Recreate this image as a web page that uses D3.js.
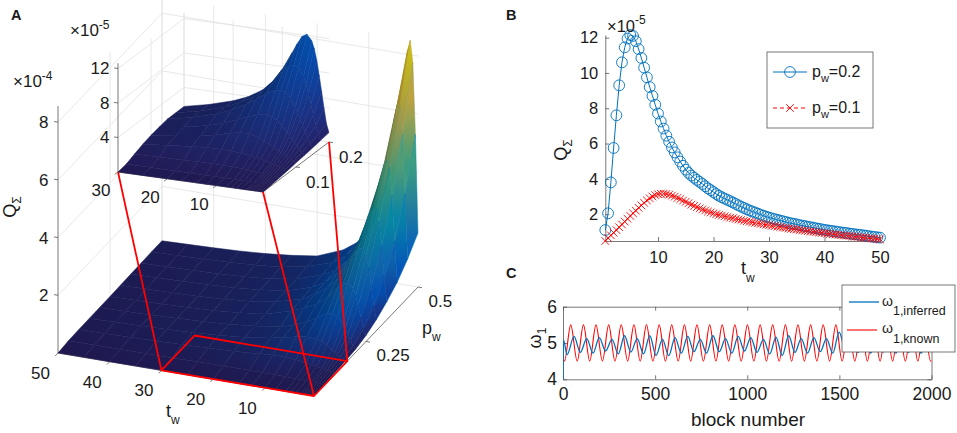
<!DOCTYPE html>
<html>
<head>
<meta charset="utf-8">
<script src="https://cdn.jsdelivr.net/npm/d3@7"></script>
<style>
html,body{margin:0;padding:0;background:#fff;}
svg{display:block;}
text{font-family:"Liberation Sans",Arial,Helvetica,sans-serif;fill:#1a1a1a;}
</style>
</head>
<body>
<svg id="fig" width="957" height="433" viewBox="0 0 957 433"></svg>
<script>
// ===================== DATA =====================
// Panel A – main surface, Q_Sigma in units of 1e-4 (rows: p_w, columns: t_w)
const tMain = [0.5,1,1.5,2,2.5,3,4,5,6,8,10,12.5,15,20,25,30,35,40,45,50];
const pMain = [0,0.05,0.1,0.15,0.2,0.25,0.3,0.35,0.4,0.45,0.5];
const qMain = [
 [0,0,0,0,0,0,0,0,0,0,0,0,0,0,0,0,0,0,0,0],
 [0.02,0.025,0.03,0.033,0.037,0.04,0.045,0.05,0.056,0.065,0.072,0.076,0.077,0.074,0.069,0.064,0.058,0.053,0.048,0.044],
 [0.048,0.065,0.08,0.095,0.11,0.126,0.158,0.19,0.22,0.278,0.313,0.305,0.27,0.205,0.167,0.137,0.113,0.092,0.074,0.057],
 [0.075,0.12,0.18,0.25,0.32,0.39,0.52,0.62,0.68,0.69,0.63,0.53,0.44,0.32,0.235,0.18,0.14,0.112,0.092,0.063],
 [0.11,0.205,0.38,0.575,0.76,0.93,1.145,1.215,1.18,0.975,0.77,0.578,0.45,0.325,0.242,0.181,0.142,0.111,0.088,0.067],
 [0.21,0.42,0.79,1.2,1.52,1.76,1.93,1.85,1.7,1.31,1.02,0.8,0.62,0.37,0.26,0.19,0.15,0.11,0.09,0.072],
 [0.38,0.84,1.5,2.13,2.55,2.77,2.72,2.46,2.13,1.57,1.2,0.9,0.66,0.41,0.28,0.21,0.15,0.12,0.1,0.08],
 [0.62,1.44,2.52,3.35,3.77,3.85,3.54,3.0,2.5,1.81,1.35,0.94,0.69,0.42,0.3,0.22,0.17,0.14,0.11,0.09],
 [0.92,2.3,3.88,4.85,5.1,4.95,4.28,3.47,2.86,2.04,1.43,0.97,0.74,0.45,0.3,0.22,0.18,0.15,0.12,0.1],
 [1.34,3.58,5.63,6.63,6.63,6.23,5.09,4.02,3.28,2.28,1.57,1.11,0.79,0.5,0.33,0.25,0.2,0.16,0.13,0.11],
 [1.87,5.27,7.74,8.5,8.16,7.48,5.78,4.5,3.66,2.38,1.62,1.16,0.85,0.49,0.36,0.27,0.21,0.17,0.14,0.11]
];
// Panel A – inset surface, Q_Sigma in units of 1e-5
const tInset = [0.5,1,1.5,2,2.5,3,3.5,4,5,6,7,8,10,12,14,17,20,25,30];
const pInset = [0,0.025,0.05,0.075,0.1,0.125,0.15,0.175,0.2];
const qInset = [
 [0,0,0,0,0,0,0,0,0,0,0,0,0,0,0,0,0,0,0],
 [0.1,0.11,0.11,0.12,0.12,0.12,0.13,0.13,0.13,0.14,0.14,0.15,0.15,0.16,0.16,0.17,0.18,0.18,0.19],
 [0.2,0.25,0.3,0.33,0.37,0.4,0.42,0.45,0.5,0.56,0.61,0.65,0.72,0.755,0.77,0.765,0.74,0.69,0.64],
 [0.33,0.43,0.52,0.6,0.68,0.76,0.84,0.92,1.07,1.2,1.32,1.43,1.58,1.68,1.72,1.68,1.58,1.32,1.05],
 [0.48,0.65,0.8,0.95,1.1,1.26,1.42,1.58,1.9,2.2,2.5,2.78,3.13,3.1,2.85,2.4,2.05,1.67,1.37],
 [0.62,0.9,1.22,1.55,1.9,2.25,2.62,2.98,3.7,4.25,4.6,4.75,4.6,4.2,3.72,3.05,2.55,2.0,1.6],
 [0.75,1.2,1.8,2.5,3.2,3.9,4.6,5.2,6.2,6.8,6.95,6.9,6.3,5.5,4.75,3.85,3.2,2.35,1.8],
 [0.92,1.55,2.6,3.75,4.95,6.1,7.2,8.05,9.05,9.25,9.0,8.55,7.15,5.9,4.95,4.0,3.25,2.4,1.8],
 [1.1,2.05,3.8,5.75,7.6,9.3,10.6,11.45,12.15,11.8,10.85,9.75,7.7,6.1,4.98,3.94,3.25,2.42,1.81]
];
// zoom region marked in the main plot
const zoomT = [0.5, 30];
const zoomP = [0, 0.16];

// Panel B – Q_Sigma (1e-5) vs t_w
const tB = [0.5,1,1.5,2,2.5,3,3.5,4,4.5,5,5.5,6,6.5,7,7.5,8,8.5,9,9.5,10,10.5,11,11.5,12,12.5,13,13.5,14,14.5,15,15.5,16,16.5,17,17.5,18,18.5,19,19.5,20,20.5,21,21.5,22,22.5,23,23.5,24,24.5,25,25.5,26,26.5,27,27.5,28,28.5,29,29.5,30,30.5,31,31.5,32,32.5,33,33.5,34,34.5,35,35.5,36,36.5,37,37.5,38,38.5,39,39.5,40,40.5,41,41.5,42,42.5,43,43.5,44,44.5,45,45.5,46,46.5,47,47.5,48,48.5,49,49.5,50];
const qB02 = [1.1,2.05,3.8,5.75,7.6,9.3,10.6,11.45,11.95,12.15,
 12.1,11.8,11.35,10.85,10.3,9.75,9.2,8.7,8.2,7.7,
 7.25,6.85,6.45,6.1,5.78,5.5,5.22,4.98,4.74,4.52,
 4.34,4.19,4.06,3.94,3.83,3.71,3.58,3.46,3.36,3.25,
 3.14,3.04,2.96,2.88,2.81,2.74,2.66,2.58,2.5,2.42,
 2.35,2.28,2.21,2.15,2.09,2.03,1.97,1.91,1.86,1.81,
 1.76,1.72,1.68,1.64,1.6,1.56,1.52,1.48,1.45,1.42,
 1.38,1.35,1.32,1.29,1.26,1.23,1.2,1.17,1.14,1.11,
 1.09,1.06,1.04,1.02,0.99,0.97,0.95,0.93,0.9,0.88,
 0.86,0.84,0.82,0.8,0.78,0.75,0.73,0.71,0.69,0.67];
const qB01 = [0.48,0.65,0.8,0.95,1.1,1.26,1.42,1.58,1.74,1.9,
 2.05,2.2,2.36,2.5,2.64,2.78,2.9,3.0,3.08,3.13,
 3.16,3.16,3.14,3.1,3.05,2.99,2.92,2.85,2.77,2.7,
 2.62,2.54,2.47,2.4,2.33,2.27,2.21,2.15,2.1,2.05,
 2.0,1.96,1.92,1.88,1.84,1.8,1.77,1.73,1.7,1.67,
 1.63,1.6,1.57,1.54,1.51,1.48,1.45,1.42,1.4,1.37,
 1.34,1.32,1.29,1.27,1.24,1.22,1.19,1.17,1.15,1.13,
 1.1,1.08,1.06,1.04,1.02,1.0,0.98,0.96,0.94,0.92,
 0.9,0.88,0.86,0.85,0.83,0.81,0.79,0.78,0.76,0.74,
 0.72,0.71,0.69,0.67,0.66,0.64,0.62,0.61,0.59,0.57];

// Panel C – omega_1 vs block number (turning points)
const blocksKnown = [0,8,42,77,111,145,179,214,248,282,316,351,385,419,453,488,522,556,590,625,659,693,727,762,796,830,864,899,933,967,1001,1036,1070,1104,1138,1173,1207,1241,1275,1310,1344,1378,1412,1447,1481,1515,1549,1584,1618,1652,1686,1721,1755,1789,1823,1858,1892,1926,1960,1995,2000];
const omegaKnown = [4.62,4.5,5.5,4.5,5.5,4.5,5.5,4.5,5.5,4.5,5.5,4.5,5.5,4.5,5.5,4.5,5.5,4.5,5.5,4.5,5.5,4.5,5.5,4.5,5.5,4.5,5.5,4.5,5.5,4.5,5.5,4.5,5.5,4.5,5.5,4.5,5.5,4.5,5.5,4.5,5.5,4.5,5.5,4.5,5.5,4.5,5.5,4.5,5.5,4.5,5.5,4.5,5.5,4.5,5.5,4.5,5.5,4.5,5.5,4.5,4.51];
const blocksInferred = [0,3,22,60,94,129,163,197,231,266,300,334,368,403,437,471,505,540,574,608,642,677,711,745,779,814,848,882,916,951,985,1019,1053,1088,1122,1156,1190,1225,1259,1293,1327,1362,1396,1430,1464,1499,1533,1567,1601,1636,1670,1704,1738,1773,1807,1841,1875,1910,1944,1978,2000];
const omegaInferred = [4.0,5.08,4.68,5.18,4.74,5.12,4.72,5.15,4.78,5.1,4.7,5.2,4.75,5.12,4.7,5.2,4.66,5.1,4.65,5.15,4.72,5.18,4.76,5.1,4.72,5.2,4.76,5.12,4.72,5.18,4.78,5.15,4.74,5.1,4.7,5.16,4.66,5.2,4.74,5.12,4.72,5.15,4.76,5.12,4.72,5.3,4.8,5.15,4.74,5.12,4.72,5.18,4.75,5.12,4.72,5.15,4.74,5.1,4.72,5.14,4.95];

// tick values
const ticksTMain = [10,20,30,40,50], ticksPMain = [0.25,0.5], ticksZMain = [2,4,6,8];
const ticksTInset = [10,20,30], ticksPInset = [0.1,0.2], ticksZInset = [4,8,12];
const ticksTB = [10,20,30,40,50], ticksQB = [2,4,6,8,10,12];
const ticksBlock = [0,500,1000,1500,2000], ticksOmega = [4,5,6];

// ===================== STYLE =====================
const AXIS = '#555', GRID = '#e2e2e2', BLUE = '#0072BD', RED = '#FF0000';
const parula = d3.scaleLinear()
  .domain([0,0.125,0.25,0.375,0.5,0.625,0.75,0.875,1])
  .range(['#352a87','#0363e1','#1485d4','#06a7c6','#38b99e','#92bf73','#d9ba56','#fcce2e','#f9fb0e'])
  .clamp(true);
const plain = d => String(d);

const svg = d3.select('#fig');
const defs = svg.append('defs');

function rich(g, x, y, parts, opt = {}) {
  const t = g.append('text').attr('text-anchor', opt.anchor || 'start');
  if (opt.transform) t.attr('transform', opt.transform); else t.attr('x', x).attr('y', y);
  if (opt.weight) t.attr('font-weight', opt.weight);
  let prev = 0;
  parts.forEach(p => {
    const s = p.shift || 0;
    t.append('tspan').attr('dy', s - prev).attr('font-size', p.size).text(p.text);
    prev = s;
  });
  return t;
}

// ===================== PANEL A (3D) =====================
function make3D(c) {
  const su = d3.scaleLinear().domain(c.tDom).range([0, 1]);
  const sv = d3.scaleLinear().domain(c.pDom).range([0, 1]);
  const sz = d3.scaleLinear().domain(c.zDom).range([0, c.zPx]);
  const proj = (t, p, z) => {
    const u = su(t), v = sv(p);
    return [c.O[0] + u * c.U[0] + v * c.V[0], c.O[1] + u * c.U[1] + v * c.V[1] - sz(z)];
  };
  const nU = Math.hypot(...c.U), nV = Math.hypot(...c.V);
  return {su, sv, sz, proj, U: [c.U[0]/nU, c.U[1]/nU], V: [c.V[0]/nV, c.V[1]/nV], zTop: c.zDom[1]};
}

function frame3D(g, ax, tk, lab) {
  const [t0, t1] = ax.su.domain(), [p0, p1] = ax.sv.domain(), zTop = ax.zTop;
  const grid = [];
  tk.t.forEach(t => { grid.push([[t,p1,0],[t,p1,zTop]], [[t,p0,0],[t,p1,0]]); });
  tk.p.forEach(p => { grid.push([[t1,p,0],[t1,p,zTop]], [[t0,p,0],[t1,p,0]]); });
  tk.z.forEach(z => { grid.push([[t0,p1,z],[t1,p1,z]], [[t1,p0,z],[t1,p1,z]]); });
  const segs = (sel, data, col, w) => sel.selectAll(null).data(data).join('line')
    .attr('x1', d => ax.proj(...d[0])[0]).attr('y1', d => ax.proj(...d[0])[1])
    .attr('x2', d => ax.proj(...d[1])[0]).attr('y2', d => ax.proj(...d[1])[1])
    .attr('stroke', col).attr('stroke-width', w);
  segs(g.append('g'), grid, GRID, 0.8);
  segs(g.append('g'), [[[t0,p0,0],[t1,p0,0]], [[t0,p0,0],[t0,p1,0]], [[t1,p0,0],[t1,p0,zTop]]], AXIS, 0.8);
  const L = 4;
  const tickG = g.append('g').attr('stroke', AXIS).attr('stroke-width', 0.8);
  tk.t.forEach(t => { const a = ax.proj(t,p0,0); tickG.append('line').attr('x1',a[0]).attr('y1',a[1]).attr('x2',a[0]-ax.V[0]*L).attr('y2',a[1]-ax.V[1]*L); });
  tk.p.forEach(p => { const a = ax.proj(t0,p,0); tickG.append('line').attr('x1',a[0]).attr('y1',a[1]).attr('x2',a[0]-ax.U[0]*L).attr('y2',a[1]-ax.U[1]*L); });
  tk.z.forEach(z => { const a = ax.proj(t1,p0,z); tickG.append('line').attr('x1',a[0]).attr('y1',a[1]).attr('x2',a[0]+ax.U[0]*L).attr('y2',a[1]+ax.U[1]*L); });
  const lg = g.append('g').attr('font-size', lab.size);
  tk.t.forEach(t => { const a = ax.proj(t,p0,0); lg.append('text').attr('x', a[0]+lab.tOff[0]).attr('y', a[1]+lab.tOff[1]).attr('dy','0.35em').attr('text-anchor','middle').text(t); });
  tk.p.forEach(p => { const a = ax.proj(t0,p,0); lg.append('text').attr('x', a[0]+lab.pOff[0]).attr('y', a[1]+lab.pOff[1]).attr('dy','0.35em').attr('text-anchor','start').text(p); });
  tk.z.forEach(z => { const a = ax.proj(t1,p0,z); lg.append('text').attr('x', a[0]+lab.zOff[0]).attr('y', a[1]+lab.zOff[1]).attr('dy','0.35em').attr('text-anchor','end').text(z); });
}

let gradId = 0;
function surface(g, ax, T, P, Q, unit, cMax) {
  const cells = [];
  const mid = (a, b) => [(a[0]+b[0])/2, (a[1]+b[1])/2, (a[2]+b[2])/2];
  for (let i = 0; i < P.length - 1; i++) for (let j = 0; j < T.length - 1; j++) {
    const c = [[T[j],P[i],Q[i][j]],[T[j+1],P[i],Q[i][j+1]],[T[j+1],P[i+1],Q[i+1][j+1]],[T[j],P[i+1],Q[i+1][j]]];
    const pts = c.map(d => ax.proj(d[0], d[1], d[2]));
    const depth = -d3.mean(c, d => ax.proj(d[0], d[1], 0)[1]);
    let a = 0;
    for (let k = 0; k < 4; k++) { const p1 = pts[k], p2 = pts[(k+1)%4]; a += p1[0]*p2[1] - p2[0]*p1[1]; }
    a = Math.abs(a) / 2;
    // emulate the darkening by the dense black mesh of the original (0.5 x 0.005 cells)
    const nSub = ((T[j+1]-T[j]) / 0.5) * ((P[i+1]-P[i]) / 0.005);
    const aSub = Math.max(a / nSub, 0.05);
    const cov = Math.min(0.42, 0.42 * Math.pow(3.4 / aSub, 0.3));
    const shade = v => d3.interpolateRgb(parula(v * unit / cMax), '#000')(cov);
    // colour ramp across the facet, along the direction of the larger change
    const eP0 = mid(c[0], c[1]), eP1 = mid(c[3], c[2]);
    const eT0 = mid(c[0], c[3]), eT1 = mid(c[1], c[2]);
    const [s, e] = Math.abs(eP1[2]-eP0[2]) >= Math.abs(eT1[2]-eT0[2]) ? [eP0, eP1] : [eT0, eT1];
    const ps = ax.proj(...s), pe = ax.proj(...e);
    const id = 'sg' + (gradId++);
    const gr = defs.append('linearGradient').attr('id', id).attr('gradientUnits', 'userSpaceOnUse')
      .attr('x1', ps[0]).attr('y1', ps[1]).attr('x2', pe[0]).attr('y2', pe[1]);
    gr.append('stop').attr('offset', 0).attr('stop-color', shade(s[2]));
    gr.append('stop').attr('offset', 1).attr('stop-color', shade(e[2]));
    cells.push({pts, depth, fill: `url(#${id})`, edge: shade(d3.mean(c, d => d[2]))});
  }
  cells.sort((a, b) => b.depth - a.depth);
  g.append('g').selectAll('path').data(cells).join('path')
    .attr('d', d => 'M' + d.pts.map(p => p.join(',')).join('L') + 'Z')
    .attr('fill', d => d.fill).attr('stroke', d => d.edge)
    .attr('stroke-width', 0.5).attr('stroke-linejoin', 'round');
}

const cMax = d3.max(qMain.flat()) * 1e-4;
const mainAx = make3D({O:[314,396], U:[-256,-43], V:[104,-109], tDom:[0.5,50], pDom:[0,0.5], zDom:[0,8.56], zPx:247});
const insetAx = make3D({O:[263,192], U:[-145,-20], V:[66,-50], tDom:[0.5,30], pDom:[0,0.2], zDom:[0,12.6], zPx:108.7});

const gA = svg.append('g');
frame3D(gA, mainAx, {t: ticksTMain, p: ticksPMain, z: ticksZMain}, {size: 17, tOff: [-17.5, 20], pOff: [10.5, 14], zOff: [-9.5, 0]});
surface(gA, mainAx, tMain, pMain, qMain, 1e-4, cMax);
frame3D(gA, insetAx, {t: ticksTInset, p: ticksPInset, z: ticksZInset}, {size: 17, tOff: [-17, 18], pOff: [10, 15], zOff: [-8.5, 0]});
surface(gA, insetAx, tInset, pInset, qInset, 1e-5, cMax);

// red zoom box + connectors
const redG = gA.append('g').attr('stroke', RED).attr('stroke-width', 1.8).attr('fill', 'none').attr('stroke-linejoin', 'round');
const rect = [[zoomT[0],zoomP[0]],[zoomT[1],zoomP[0]],[zoomT[1],zoomP[1]],[zoomT[0],zoomP[1]]].map(d => mainAx.proj(d[0], d[1], 0));
redG.append('path').attr('d', 'M' + rect.map(p => p.join(',')).join('L') + 'Z');
const conn = [
  [insetAx.proj(30, 0, 0), mainAx.proj(zoomT[1], zoomP[0], 0)],
  [insetAx.proj(0.5, 0, 0), mainAx.proj(zoomT[0], zoomP[0], 0)],
  [insetAx.proj(0.5, 0.2, 0), mainAx.proj(zoomT[0], zoomP[1], 0)]
];
redG.selectAll('line').data(conn).join('line')
  .attr('x1', d => d[0][0]).attr('y1', d => d[0][1]).attr('x2', d => d[1][0]).attr('y2', d => d[1][1]);

// panel A texts
rich(gA, 13, 87, [{text: '×10', size: 17}, {text: '-4', size: 12, shift: -7}]);
rich(gA, 70, 36, [{text: '×10', size: 17}, {text: '-5', size: 12, shift: -7}]);
rich(gA, 0, 0, [{text: 'Q', size: 18}, {text: 'Σ', size: 12, shift: 5}], {anchor: 'middle', transform: 'translate(16,207) rotate(-90)'});
rich(gA, 166, 417, [{text: 't', size: 18}, {text: 'w', size: 12, shift: 7}]);
rich(gA, 422, 334, [{text: 'p', size: 18}, {text: 'w', size: 12, shift: 7}]);
gA.append('text').attr('x', 11).attr('y', 20).attr('font-size', 14.5).attr('font-weight', 'bold').text('A');

// ===================== PANEL B =====================
const gB = svg.append('g');
const xB = d3.scaleLinear().domain(d3.extent(tB)).range([605.3, 880]);
const yB = d3.scaleLinear().domain([d3.min(qB01), d3.max(qB02)]).range([241, 35]);
const axL = gB.append('g').attr('transform', 'translate(605.3,0)')
  .call(d3.axisLeft(yB).tickValues(ticksQB).tickFormat(plain).tickSize(-4).tickSizeOuter(0).tickPadding(7));
const axBt = gB.append('g').attr('transform', 'translate(0,241)')
  .call(d3.axisBottom(xB).tickValues(ticksTB).tickFormat(plain).tickSize(-4).tickSizeOuter(0).tickPadding(10));
[axL, axBt].forEach(a => { a.selectAll('path,line').attr('stroke', AXIS).attr('stroke-width', 0.8); a.selectAll('text').attr('font-size', 16.5).attr('fill', '#1a1a1a').attr('font-family', null); });

const ptsB2 = tB.map((t, i) => [t, qB02[i]]);
const ptsB1 = tB.map((t, i) => [t, qB01[i]]);
const lineB = d3.line().x(d => xB(d[0])).y(d => yB(d[1]));
gB.append('path').attr('d', lineB(ptsB2)).attr('fill', 'none').attr('stroke', BLUE).attr('stroke-width', 1);
gB.append('g').selectAll('circle').data(ptsB2).join('circle')
  .attr('cx', d => xB(d[0])).attr('cy', d => yB(d[1])).attr('r', 5.4)
  .attr('fill', 'none').attr('stroke', BLUE).attr('stroke-width', 0.9);
gB.append('path').attr('d', lineB(ptsB1)).attr('fill', 'none').attr('stroke', RED).attr('stroke-width', 1).attr('stroke-dasharray', '4,3');
const xMark = (x, y, s) => `M${x-s},${y-s}L${x+s},${y+s}M${x-s},${y+s}L${x+s},${y-s}`;
gB.append('g').selectAll('path').data(ptsB1).join('path')
  .attr('d', d => xMark(xB(d[0]), yB(d[1]), 3.8)).attr('stroke', RED).attr('stroke-width', 0.9).attr('fill', 'none');

rich(gB, 607, 32, [{text: '×10', size: 16.5}, {text: '-5', size: 12, shift: -8}]);
rich(gB, 0, 0, [{text: 'Q', size: 18}, {text: 'Σ', size: 12, shift: 5}], {anchor: 'middle', transform: 'translate(567,150) rotate(-90)'});
rich(gB, 741, 274, [{text: 't', size: 18}, {text: 'w', size: 12, shift: 8}]);
// legend B
const legB = gB.append('g');
legB.append('rect').attr('x', 767).attr('y', 52).attr('width', 106).attr('height', 76).attr('fill', '#fff').attr('stroke', AXIS).attr('stroke-width', 0.8);
legB.append('line').attr('x1', 773).attr('x2', 807).attr('y1', 72).attr('y2', 72).attr('stroke', BLUE).attr('stroke-width', 1);
legB.append('circle').attr('cx', 790).attr('cy', 72).attr('r', 5.4).attr('fill', 'none').attr('stroke', BLUE).attr('stroke-width', 0.9);
legB.append('line').attr('x1', 773).attr('x2', 807).attr('y1', 108).attr('y2', 108).attr('stroke', RED).attr('stroke-width', 1).attr('stroke-dasharray', '4,3');
legB.append('path').attr('d', xMark(790, 108, 3.8)).attr('stroke', RED).attr('stroke-width', 0.9);
rich(legB, 812, 77, [{text: 'p', size: 16}, {text: 'w', size: 11, shift: 5}, {text: '=0.2', size: 16, shift: 0}]);
rich(legB, 812, 113, [{text: 'p', size: 16}, {text: 'w', size: 11, shift: 5}, {text: '=0.1', size: 16, shift: 0}]);
gB.append('text').attr('x', 506).attr('y', 20).attr('font-size', 14.5).attr('font-weight', 'bold').text('B');

// ===================== PANEL C =====================
const gC = svg.append('g');
const xC = d3.scaleLinear().domain([0, 2000]).range([563, 931.5]);
const yC = d3.scaleLinear().domain([4, 6]).range([379.3, 306.7]);
defs.append('clipPath').attr('id', 'clipC').append('rect')
  .attr('x', 563).attr('y', 306.7).attr('width', 368.5).attr('height', 72.6);
const axes = [
  gC.append('g').attr('transform', 'translate(0,379.3)').call(d3.axisBottom(xC).tickValues(ticksBlock).tickFormat(plain).tickSize(-4).tickSizeOuter(0).tickPadding(8)),
  gC.append('g').attr('transform', 'translate(563,0)').call(d3.axisLeft(yC).tickValues(ticksOmega).tickFormat(plain).tickSize(-4).tickSizeOuter(0).tickPadding(6)),
  gC.append('g').attr('transform', 'translate(0,306.7)').call(d3.axisTop(xC).tickValues(ticksBlock).tickSize(-4).tickSizeOuter(0).tickFormat('')),
  gC.append('g').attr('transform', 'translate(931.5,0)').call(d3.axisRight(yC).tickValues(ticksOmega).tickSize(-4).tickSizeOuter(0).tickFormat(''))
];
axes.forEach(a => { a.selectAll('path,line').attr('stroke', AXIS).attr('stroke-width', 0.8); a.selectAll('text').attr('font-size', 17.5).attr('fill', '#1a1a1a').attr('font-family', null); });

const lineC = d3.line().x(d => xC(d[0])).y(d => yC(d[1])).curve(d3.curveMonotoneX);
const plotC = gC.append('g').attr('clip-path', 'url(#clipC)');
plotC.append('path').attr('d', lineC(blocksKnown.map((b, i) => [b, omegaKnown[i]]))).attr('fill', 'none').attr('stroke', RED).attr('stroke-width', 1.1);
plotC.append('path').attr('d', lineC(blocksInferred.map((b, i) => [b, omegaInferred[i]]))).attr('fill', 'none').attr('stroke', BLUE).attr('stroke-width', 1.3);

gC.append('text').attr('x', 748).attr('y', 426).attr('text-anchor', 'middle').attr('font-size', 19).text('block number');
rich(gC, 0, 0, [{text: 'ω', size: 18}, {text: '1', size: 12, shift: 5}], {anchor: 'middle', transform: 'translate(541,338) rotate(-90)'});
// legend C
const legC = gC.append('g');
legC.append('rect').attr('x', 842).attr('y', 285).attr('width', 113).attr('height', 67).attr('fill', '#fff').attr('stroke', AXIS).attr('stroke-width', 0.8);
legC.append('line').attr('x1', 849).attr('x2', 879).attr('y1', 302).attr('y2', 302).attr('stroke', BLUE).attr('stroke-width', 1.3);
legC.append('line').attr('x1', 847).attr('x2', 877).attr('y1', 330).attr('y2', 330).attr('stroke', RED).attr('stroke-width', 1.1);
rich(legC, 882, 306, [{text: 'ω', size: 14}, {text: '1,inferred', size: 12.5, shift: 9}]);
rich(legC, 882, 333, [{text: 'ω', size: 14}, {text: '1,known', size: 12.5, shift: 10}]);
gC.append('text').attr('x', 506).attr('y', 278).attr('font-size', 14.5).attr('font-weight', 'bold').text('C');
</script>
</body>
</html>
